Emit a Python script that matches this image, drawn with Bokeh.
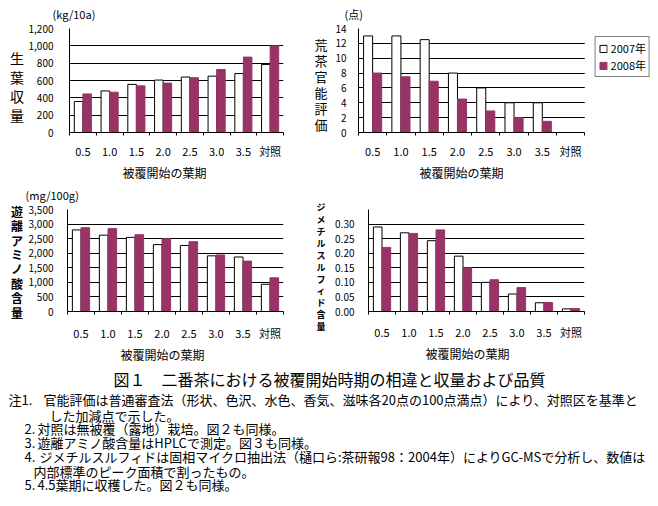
import numpy as np
from bokeh.plotting import figure
from bokeh.layouts import column, row
from bokeh.models import (Range1d, FixedTicker, SingleIntervalTicker, NumeralTickFormatter,
                          Label, ColumnDataSource, Legend, LegendItem, Title, BoxAnnotation, Div)
from bokeh.transform import dodge
from bokeh.embed import file_html
from bokeh.resources import INLINE

FONT = "Noto Sans CJK JP"
PURPLE = "#993366"

categories = ["0.5", "1.0", "1.5", "2.0", "2.5", "3.0", "3.5", "対照"]
series_names = ["2007年", "2008年"]

yield_2007 = [358, 480, 555, 605, 640, 650, 680, 785]
yield_2008 = [445, 465, 538, 570, 632, 727, 870, 1000]

sensory_2007 = [13, 13, 12.5, 8, 6, 4, 4, 0]
sensory_2008 = [8, 7.5, 6.9, 4.5, 2.9, 2, 1.5, 0]

amino_2007 = [2800, 2620, 2545, 2295, 2265, 1910, 1870, 935]
amino_2008 = [2875, 2845, 2635, 2495, 2395, 1940, 1730, 1155]

dms_2007 = [0.29, 0.27, 0.243, 0.19, 0.10, 0.06, 0.03, 0.009]
dms_2008 = [0.22, 0.268, 0.28, 0.15, 0.109, 0.082, 0.031, 0.01]

x_title = "被覆開始の葉期"

caption = "図１　二番茶における被覆開始時期の相違と収量および品質"
notes = [
    ("注1.", "官能評価は普通審査法（形状、色沢、水色、香気、滋味各20点の100点満点）により、対照区を基準と"),
    ("", "した加減点で示した。"),
    ("2.", "対照は無被覆（露地）栽培。図２も同様。"),
    ("3.", "遊離アミノ酸含量はHPLCで測定。図３も同様。"),
    ("4.", "ジメチルスルフィドは固相マイクロ抽出法（樋口ら:茶研報98：2004年）によりGC-MSで分析し、数値は"),
    ("", "内部標準のピーク面積で割ったもの。"),
    ("5.", "4.5葉期に収穫した。図２も同様。"),
]


def text_fig(width, height):
    p = figure(width=width, height=height, x_range=Range1d(0, width),
               y_range=Range1d(height, 0), output_backend="svg", toolbar_location=None,
               x_axis_type=None, y_axis_type=None, min_border=0)
    p.grid.visible = False
    p.outline_line_color = None
    return p


def put(p, x, y, text, size, align="center", bold=False):
    p.add_layout(Label(x=x, y=y, text=text, text_font=FONT, text_font_size=f"{size}px",
                       text_align=align, text_baseline="middle",
                       text_color="black", text_font_style="bold" if bold else "normal"))


def stack_div(width, height, xc, y0, step, text, size, bold=False):
    weight = "bold" if bold else "normal"
    inner = "<br>".join(text)
    w = size + 1
    html = (f'<div style="margin-top:{y0 - step / 2:.1f}px; margin-left:{xc - w / 2:.1f}px; '
            f'width:{w}px; text-align:center; line-height:{step}px; font-size:{size}px; '
            f"font-family:'{FONT}'; font-weight:{weight}; color:black; "
            f'white-space:nowrap;">{inner}</div>')
    return Div(text=html, width=width, height=height, margin=0)


def make_chart(width, height, L, R, T, B, ymax, ystep, fmt, v07, v08, ystand, xstand,
               unit=None, unit_offset=0, unit_standoff=10, title_offset=0, legend=False):
    n = len(categories)
    frame_right = width if legend else R
    x_end = n * (frame_right - L) / (R - L)
    p = figure(width=width, height=height, x_range=Range1d(0, x_end), y_range=Range1d(0, ymax),
               output_backend="svg", toolbar_location=None,
               min_border_left=L, min_border_right=width - frame_right,
               min_border_top=T, min_border_bottom=height - B)
    p.outline_line_color = None
    centers = np.arange(n) + 0.5
    src = ColumnDataSource(dict(x=centers, a=v07, b=v08))
    r1 = p.vbar(x=dodge("x", -0.16, range=p.x_range), top="a", width=0.32, source=src,
                fill_color="white", line_color="black", line_width=1)
    r2 = p.vbar(x=dodge("x", 0.16, range=p.x_range), top="b", width=0.32, source=src,
                fill_color=PURPLE, line_color=PURPLE, line_width=1)

    xa = p.xaxis[0]
    xa.bounds = (0, n)
    xa.ticker = FixedTicker(ticks=[float(c) for c in centers],
                            minor_ticks=[float(i) for i in range(n + 1)])
    xa.major_label_overrides = {float(c): lab for c, lab in zip(centers, categories)}
    xa.major_tick_out = 0
    xa.major_tick_in = 0
    xa.minor_tick_out = 3
    xa.minor_tick_in = 0
    xa.minor_tick_line_color = "black"
    xa.axis_line_color = "black"
    xa.major_label_text_font = FONT
    xa.major_label_text_font_size = "11px"
    xa.major_label_text_color = "black"
    xa.major_label_standoff = xstand

    ya = p.yaxis[0]
    ya.ticker = SingleIntervalTicker(interval=ystep, num_minor_ticks=0)
    ya.formatter = NumeralTickFormatter(format=fmt)
    ya.major_tick_out = 0
    ya.major_tick_in = 0
    ya.minor_tick_line_color = None
    ya.axis_line_color = "black"
    ya.major_label_text_font = FONT
    ya.major_label_text_font_size = "10px"
    ya.major_label_text_color = "black"
    ya.major_label_standoff = ystand

    p.xgrid.visible = False
    p.ygrid.grid_line_color = "black"
    p.ygrid.grid_line_width = 1

    if unit:
        p.title.text = unit
        p.title.align = "left"
        p.title.vertical_align = "top"
        p.title.offset = unit_offset
        p.title.standoff = unit_standoff
        p.title.text_font = FONT
        p.title.text_font_size = "11px"
        p.title.text_font_style = "normal"
        p.title.text_color = "black"

    p.add_layout(Title(text=x_title, align="left", offset=title_offset, standoff=0,
                       text_font=FONT, text_font_size="12px", text_font_style="normal",
                       text_color="black"), "below")

    if legend:
        # blank the area right of the plotting region, where the legend sits
        p.add_layout(BoxAnnotation(left=n, fill_color="white", fill_alpha=1,
                                   line_color=None, level="overlay"))
        lg = Legend(items=[LegendItem(label=series_names[0], renderers=[r1]),
                           LegendItem(label=series_names[1], renderers=[r2])],
                    location="top_right")
        lg.border_line_color = "black"
        lg.border_line_width = 1
        lg.background_fill_color = "white"
        lg.background_fill_alpha = 1
        lg.label_text_font = FONT
        lg.label_text_font_size = "11px"
        lg.label_text_color = "black"
        lg.glyph_width = 9
        lg.glyph_height = 9
        lg.label_height = 12
        lg.label_standoff = 3
        lg.padding = 3
        lg.spacing = 1
        lg.margin = 8
        p.add_layout(lg, "center")
    return p


VW = 25   # width of the stacked-label strip at the far left
MW = 20   # width of the stacked-label strip between charts

# Row 1
v1 = stack_div(VW, 180, 17, 58, 19, "生葉収量", 14)
f1 = make_chart(287, 180, 42, 258, 27, 142, 1200, 200, "0,0", yield_2007, yield_2008, 16, 7,
                unit="(kg/10a)", unit_offset=-17, unit_standoff=10, title_offset=53)
v2 = stack_div(MW, 180, 9, 45, 16, "荒茶官能評価", 13)
f2 = make_chart(326, 180, 25, 252, 25, 141, 14, 2, "0", sensory_2007, sensory_2008, 12, 7,
                unit="(点)", unit_offset=-14, unit_standoff=9, title_offset=61, legend=True)

# Row 2
v3 = stack_div(VW, 182, 17, 32, 14.4, "遊離アミノ酸含量", 12, bold=True)
f3 = make_chart(287, 182, 42, 258, 29, 145, 3500, 500, "0,0", amino_2007, amino_2008, 14, 10,
                unit="(mg/100g)", unit_offset=-42, unit_standoff=10, title_offset=53)
v4 = stack_div(MW, 182, 9, 28, 11.9, "ジメチルスルフィド含量", 9, bold=True)
f4 = make_chart(326, 182, 34, 252, 29, 145, 0.35, 0.05, "0.00", dms_2007, dms_2008, 14, 9,
                title_offset=57)

# Caption and notes
fn = text_fig(658, 144)
put(fn, 329, 16, caption, 16)
note_y = [37, 53, 66, 80, 94, 109, 122]
body_x = [43, 49, 37, 37, 39, 33, 37]
for (pre, body), yy, bx in zip(notes, note_y, body_x):
    if pre:
        px = 8 if pre.startswith("注") else 24
        put(fn, px, yy, pre, 13, align="left")
    put(fn, bx, yy, body, 13, align="left")

layout = column(row(v1, f1, v2, f2), row(v3, f3, v4, f4), fn)
open("out.html", "w").write(file_html(layout, INLINE))
